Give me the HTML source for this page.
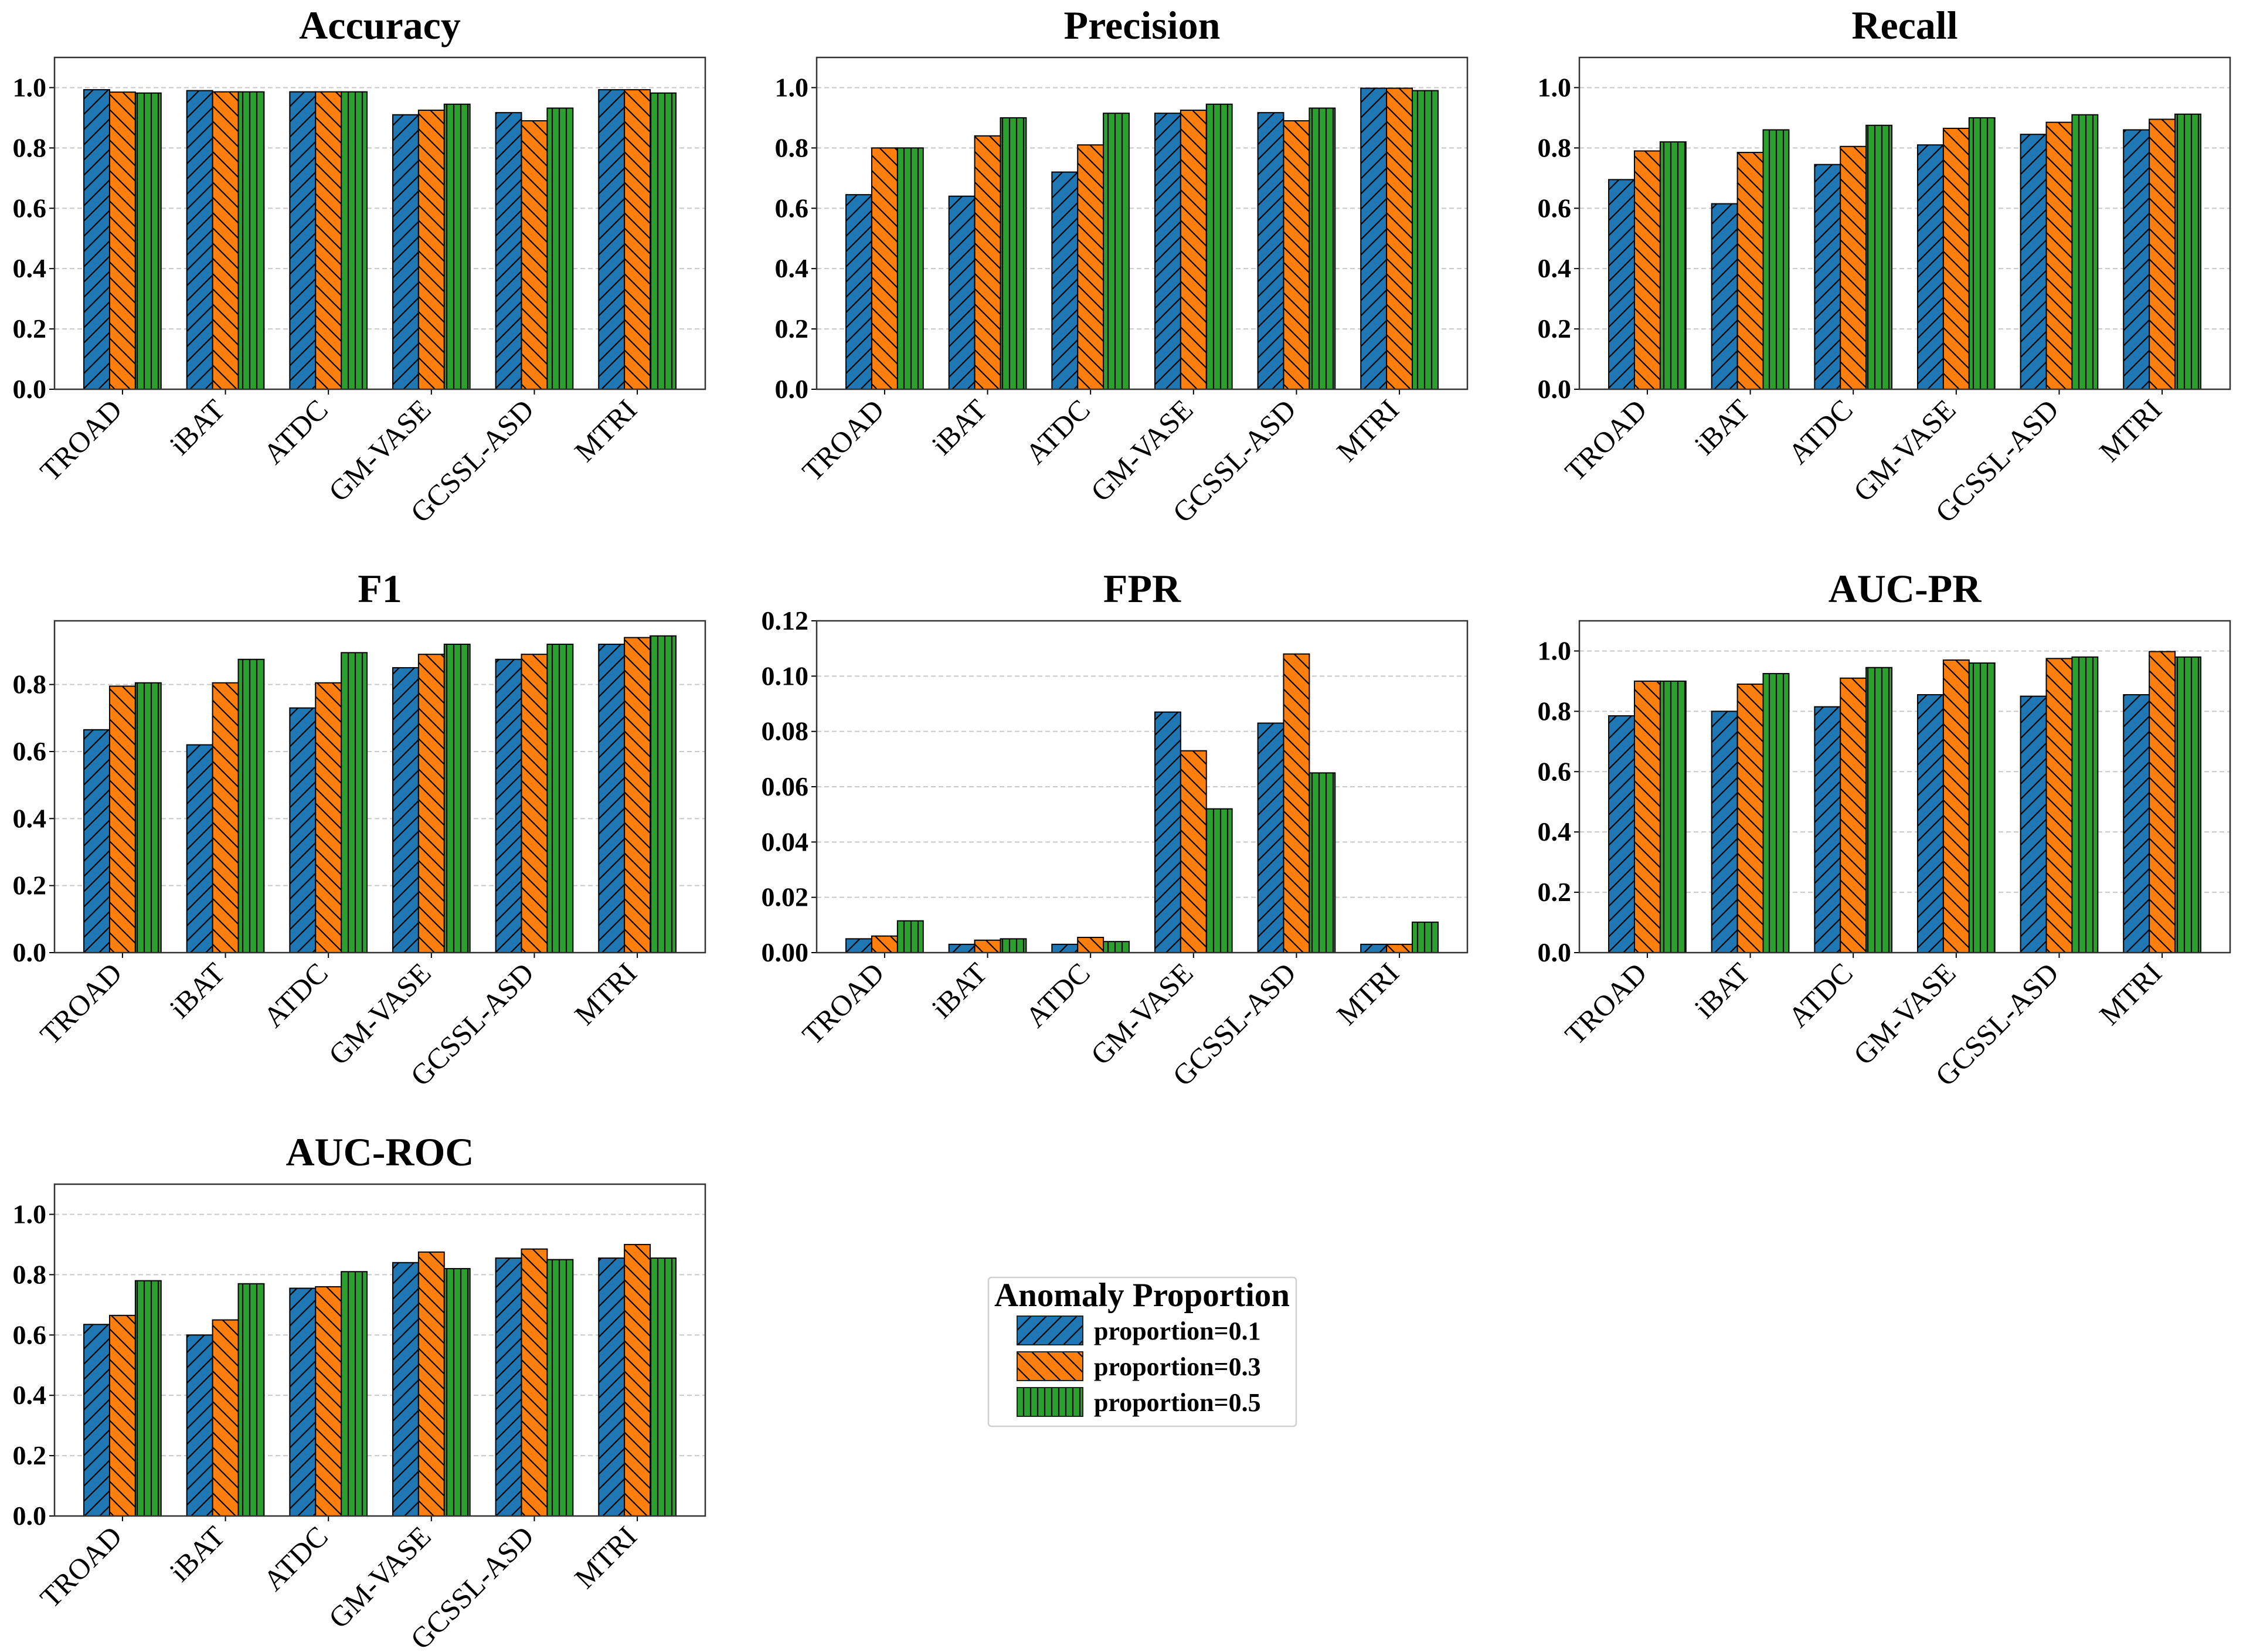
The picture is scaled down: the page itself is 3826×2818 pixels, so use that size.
<!DOCTYPE html>
<html><head><meta charset="utf-8"><style>
body{margin:0;background:#fff;}
svg{display:block;font-family:"Liberation Serif",serif;}
</style></head><body>
<svg id="fig" width="3826" height="2818" viewBox="0 0 3826 2818" xmlns="http://www.w3.org/2000/svg">
<defs>
<pattern id="hb" patternUnits="userSpaceOnUse" width="26" height="26"><rect width="26" height="26" fill="#1f77b4"/><path d="M-6.5,6.5 L6.5,-6.5 M0,26 L26,0 M19.5,32.5 L32.5,19.5" stroke="#000" stroke-width="2.2"/></pattern>
<pattern id="ho" patternUnits="userSpaceOnUse" width="26" height="26"><rect width="26" height="26" fill="#ff7f0e"/><path d="M-6.5,19.5 L6.5,32.5 M0,0 L26,26 M19.5,-6.5 L32.5,6.5" stroke="#000" stroke-width="2.2"/></pattern>
<pattern id="hg" patternUnits="userSpaceOnUse" width="12" height="20"><rect width="12" height="20" fill="#2ca02c"/><path d="M6,0 L6,20" stroke="#000" stroke-width="2.2"/></pattern>
</defs>
</svg>
<script>
const categories = ["TROAD","iBAT","ATDC","GM-VASE","GCSSL-ASD","MTRI"];
const seriesNames = ["proportion=0.1","proportion=0.3","proportion=0.5"];
const accuracyP1 = [0.993,0.990,0.986,0.910,0.917,0.993];
const accuracyP3 = [0.985,0.986,0.986,0.925,0.890,0.993];
const accuracyP5 = [0.982,0.986,0.986,0.945,0.932,0.982];
const precisionP1 = [0.645,0.640,0.720,0.915,0.917,0.998];
const precisionP3 = [0.800,0.840,0.810,0.925,0.890,0.998];
const precisionP5 = [0.800,0.900,0.915,0.945,0.932,0.990];
const recallP1 = [0.695,0.615,0.745,0.810,0.845,0.860];
const recallP3 = [0.790,0.785,0.805,0.865,0.885,0.895];
const recallP5 = [0.820,0.860,0.875,0.900,0.910,0.912];
const f1P1 = [0.665,0.620,0.730,0.850,0.875,0.920];
const f1P3 = [0.795,0.805,0.805,0.890,0.890,0.940];
const f1P5 = [0.805,0.875,0.895,0.920,0.920,0.945];
const fprP1 = [0.005,0.003,0.003,0.087,0.083,0.003];
const fprP3 = [0.006,0.0045,0.0055,0.073,0.108,0.003];
const fprP5 = [0.0115,0.005,0.004,0.052,0.065,0.011];
const aucprP1 = [0.785,0.800,0.815,0.855,0.850,0.855];
const aucprP3 = [0.900,0.890,0.910,0.970,0.975,0.998];
const aucprP5 = [0.900,0.925,0.945,0.960,0.980,0.980];
const aucrocP1 = [0.635,0.600,0.755,0.840,0.855,0.855];
const aucrocP3 = [0.665,0.650,0.760,0.875,0.885,0.900];
const aucrocP5 = [0.780,0.770,0.810,0.820,0.850,0.855];
const ticks01 = ["0.0","0.2","0.4","0.6","0.8","1.0"];
const ticksF1 = ["0.0","0.2","0.4","0.6","0.8"];
const ticksFPR = ["0.00","0.02","0.04","0.06","0.08","0.10","0.12"];

const NS="http://www.w3.org/2000/svg";
const svg=document.getElementById('fig');
function mk(tag,attrs,parent){const e=document.createElementNS(NS,tag);for(const k in attrs)e.setAttribute(k,attrs[k]);(parent||svg).appendChild(e);return e;}
const fills=["url(#hb)","url(#ho)","url(#hg)"];
const panels=[
 {t:"Accuracy",s:[accuracyP1,accuracyP3,accuracyP5],ymax:1.1,ticks:ticks01,x:93,y:98},
 {t:"Precision",s:[precisionP1,precisionP3,precisionP5],ymax:1.1,ticks:ticks01,x:1393,y:98},
 {t:"Recall",s:[recallP1,recallP3,recallP5],ymax:1.1,ticks:ticks01,x:2694,y:98},
 {t:"F1",s:[f1P1,f1P3,f1P5],ymax:0.99,ticks:ticksF1,x:93,y:1059},
 {t:"FPR",s:[fprP1,fprP3,fprP5],ymax:0.12,ticks:ticksFPR,x:1393,y:1059},
 {t:"AUC-PR",s:[aucprP1,aucprP3,aucprP5],ymax:1.1,ticks:ticks01,x:2694,y:1059},
 {t:"AUC-ROC",s:[aucrocP1,aucrocP3,aucrocP5],ymax:1.1,ticks:ticks01,x:93,y:2020}
];
const W=1110,H=566,xmin=-0.66,xmax=5.66,bw=0.25;
panels.forEach(p=>{
 const slug=p.t.toLowerCase();
 const g=mk('g',{});
 
 
 const sx=v=>p.x+(v-xmin)/(xmax-xmin)*W;
 const sy=v=>p.y+H-(v/p.ymax)*H;
 const tt=mk('text',{x:p.x+W/2,y:p.y-32,'text-anchor':'middle','font-size':68,'font-weight':'bold'},g);
 tt.textContent=p.t;
 
 
 p.ticks.forEach(tl=>{
  const v=parseFloat(tl),yy=sy(v);
  if(v>0){const gl=mk('line',{x1:p.x,x2:p.x+W,y1:yy,y2:yy,stroke:'#c8c8c8','stroke-width':2,'stroke-dasharray':'8,5'},g);
   }
  mk('line',{x1:p.x-9,x2:p.x,y1:yy,y2:yy,stroke:'#000','stroke-width':2},g);
  const t=mk('text',{x:p.x-14,y:yy+15,'text-anchor':'end','font-size':46,'font-weight':'bold'},g);
  t.textContent=tl;
  
  
 });
 p.s.forEach((arr,si)=>{
  arr.forEach((v,ci)=>{
   const xc=ci+(si-1)*bw;
   const r=mk('rect',{x:sx(xc-bw/2),y:sy(v),width:sx(xc+bw/2)-sx(xc-bw/2),height:sy(0)-sy(v),fill:fills[si],stroke:'#000','stroke-width':2},g);
   
   
  });
 });
 categories.forEach((c,ci)=>{
  const xx=sx(ci);
  mk('line',{x1:xx,x2:xx,y1:p.y+H,y2:p.y+H+9,stroke:'#000','stroke-width':2},g);
  const t=mk('text',{x:0,y:0,'text-anchor':'end','font-size':50,transform:`translate(${xx+2},${p.y+H+38}) rotate(-45)`},g);
  t.textContent=c;
  
  
 });
 const fr=mk('rect',{x:p.x,y:p.y,width:W,height:H,fill:'none',stroke:'#333','stroke-width':2.5},g);
 
 
});
// legend
const lg=mk('g',{});


mk('rect',{x:1686,y:2179,width:525,height:254,rx:5,fill:'#fff',stroke:'#d0d0d0','stroke-width':2.5},lg);
const lt=mk('text',{x:1948,y:2228,'text-anchor':'middle','font-size':57,'font-weight':'bold'},lg);
lt.textContent="Anomaly Proportion";


seriesNames.forEach((n,i)=>{
 const y=2245+i*61;
 const r=mk('rect',{x:1735,y:y,width:112,height:49,fill:fills[i],stroke:'#222','stroke-width':2},lg);
 
 
 const t=mk('text',{x:1866,y:y+40,'font-size':44,'font-weight':'bold'},lg);
 t.textContent=n;
 
 
});
</script>
</body></html>
